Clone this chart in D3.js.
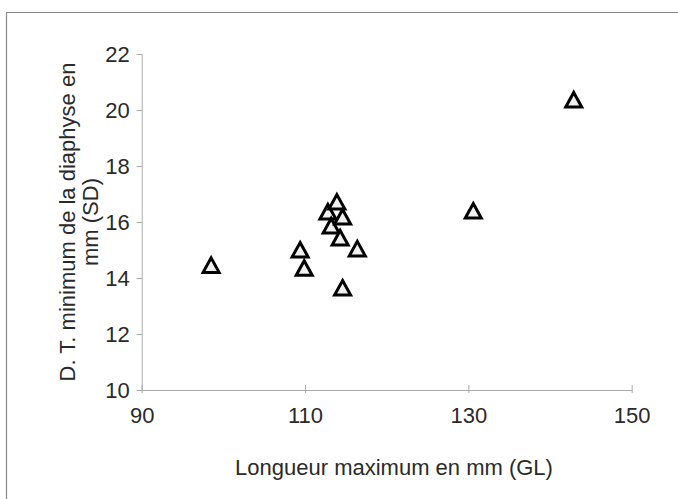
<!DOCTYPE html>
<html><head><meta charset="utf-8">
<script src="https://cdn.jsdelivr.net/npm/d3@7"></script>
<style>body{margin:0;background:#fff}svg{display:block}text{font-family:"Liberation Sans",Arial,sans-serif;fill:#2a2a2a}</style>
</head><body>
<script>
const lengthGL = [98.5, 109.4, 109.9, 112.8, 113.9, 113.2, 114.6, 114.3, 114.6, 116.4, 130.6, 142.9];
const widthSD  = [14.45, 15.0, 14.35, 16.36, 16.71, 15.86, 16.18, 15.43, 13.64, 15.04, 16.39, 20.36];
const xTicks = [90, 110, 130, 150];
const yTicks = [10, 12, 14, 16, 18, 20, 22];
const xTitle = "Longueur maximum en mm (GL)";
const yTitle = ["D. T. minimum de la diaphyse en", "mm (SD)"];

const W = 678, H = 499;
const svg = d3.select("body").append("svg").attr("width", W).attr("height", H);

// outer frame (top and left edges visible)
svg.append("path").attr("d", "M6.5,499 V12.5 H678").attr("fill", "none").attr("stroke", "#888").attr("stroke-width", 1.2);

const x = d3.scaleLinear().domain([90, 150]).range([141.7, 631.7]);
const y = d3.scaleLinear().domain([10, 22]).range([390, 54]);

const gx = svg.append("g").attr("transform", "translate(0,390)")
  .call(d3.axisBottom(x).tickValues(xTicks).tickSize(0).tickFormat(d3.format("d")));
gx.select(".domain").attr("stroke", "#aaa");
gx.selectAll(".tick").append("line").attr("y1", -5).attr("y2", 3).attr("stroke", "#aaa");
gx.selectAll("text").attr("font-size", 22).attr("fill", "#2a2a2a").attr("dy", null).attr("y", 33);

const gy = svg.append("g").attr("transform", "translate(141.7,0)")
  .call(d3.axisLeft(y).tickValues(yTicks).tickSize(5).tickPadding(7).tickFormat(d3.format("d")));
gy.select(".domain").attr("stroke", "#aaa");
gy.selectAll(".tick line").attr("stroke", "#aaa");
gy.selectAll("text").attr("font-size", 22).attr("fill", "#2a2a2a");

svg.append("text").attr("x", 394).attr("y", 475).attr("text-anchor", "middle")
  .attr("font-size", 22).text(xTitle);

const yt = svg.append("text").attr("transform", "translate(75,222) rotate(-90)")
  .attr("text-anchor", "middle").attr("font-size", 22);
yTitle.forEach((t, i) => yt.append("tspan").attr("x", 0).attr("dy", i === 0 ? 0 : 23).text(t));

const tri = "M0,-7.5 L8,7 L-8,7 Z";
svg.append("g").selectAll("path").data(lengthGL.map((v, i) => [v, widthSD[i]]))
  .join("path")
  .attr("d", tri)
  .attr("transform", d => `translate(${x(d[0])},${y(d[1])})`)
  .attr("fill", "#f0f0f0").attr("stroke", "#000").attr("stroke-width", 3).attr("stroke-linejoin", "miter");
</script>
</body></html>
